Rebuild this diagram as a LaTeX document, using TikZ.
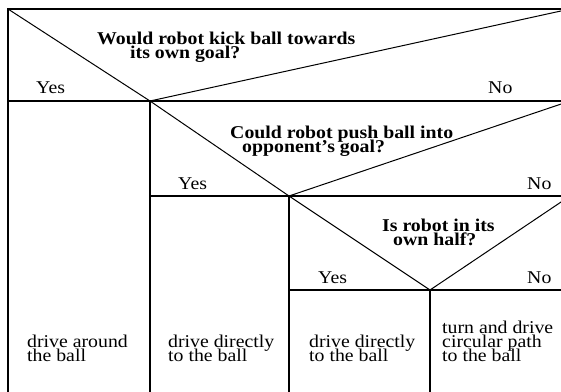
\documentclass[tikz,border=0pt]{standalone}
\usepackage{fontspec}
\setmainfont[FakeStretch=1.1]{Liberation Serif}
\newcommand\mystack[1]{\vtop{\baselineskip=14pt\lineskiplimit=-100pt\lineskip=0pt #1}}
\begin{document}
\begin{tikzpicture}[x=1pt,y=-1pt,
  box/.style={line width=1.8pt},
  diag/.style={line width=1pt},
  lbl/.style={anchor=base west,inner sep=0pt,font=\fontsize{18}{14}\selectfont},
  qst/.style={anchor=base west,inner sep=0pt,font=\fontsize{18}{14}\selectfont\bfseries}]
\useasboundingbox (0,0) rectangle (561,391);
\clip (0,0) rectangle (561,391);
% corners
\coordinate (TL) at (8,9);
\coordinate (TR) at (570,9);
\coordinate (A) at (150,101);
\coordinate (AL) at (8,101);
\coordinate (AR) at (570,101);
\coordinate (B) at (289,196);
\coordinate (BL) at (150,196);
\coordinate (BR) at (570,196);
\coordinate (C) at (430,290);
\coordinate (CL) at (289,290);
\coordinate (CR) at (570,290);
\coordinate (L0) at (8,400);
\coordinate (A0) at (150,400);
\coordinate (B0) at (289,400);
\coordinate (C0) at (430,400);
% box lines
\draw[box] (L0) -- (TL) -- (TR);
\draw[box] (AL) -- (AR);
\draw[box] (A) -- (A0);
\draw[box] (BL) -- (BR);
\draw[box] (B) -- (B0);
\draw[box] (CL) -- (CR);
\draw[box] (C) -- (C0);
% diagonals
\draw[diag] (TL) -- (A) -- (TR);
\draw[diag] (A) -- (B) -- (AR);
\draw[diag] (B) -- (C) -- (BR);
% texts
\node[qst] (q1) at (97,44) {\mystack{\hbox{Would robot kick ball towards}\hbox{\hspace{33pt}its own goal?}}};
\node[lbl] (y1) at (36,93) {Yes};
\node[lbl] (n1) at (488,93) {No};
\node[qst] (q2) at (230,138) {\mystack{\hbox{Could robot push ball into}\hbox{\hspace{12pt}opponent’s goal?}}};
\node[lbl] (y2) at (178,189) {Yes};
\node[lbl] (n2) at (527,189) {No};
\node[qst] (q3) at (382,231) {\mystack{\hbox{Is robot in its}\hbox{\hspace{11pt}own half?}}};
\node[lbl] (y3) at (318,283) {Yes};
\node[lbl] (n3) at (527,283) {No};
\node[lbl] (s1) at (27,347) {\mystack{\hbox{drive around}\hbox{the ball}}};
\node[lbl] (s2) at (168,347) {\mystack{\hbox{drive directly}\hbox{to the ball}}};
\node[lbl] (s3) at (309,347) {\mystack{\hbox{drive directly}\hbox{to the ball}}};
\node[lbl] (s4) at (442,333) {\mystack{\hbox{turn and drive}\hbox{circular path}\hbox{to the ball}}};
\end{tikzpicture}
\end{document}
